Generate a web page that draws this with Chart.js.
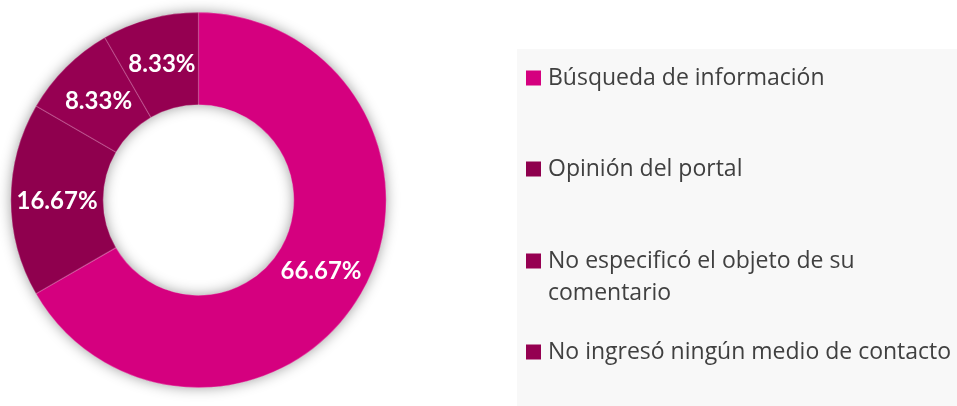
<!DOCTYPE html>
<html>
<head>
<meta charset="utf-8">
<script src="https://cdn.jsdelivr.net/npm/chart.js@4/dist/chart.umd.min.js"></script>
<style>
  html, body { margin: 0; padding: 0; background: #ffffff; }
  #wrap { position: relative; width: 957px; height: 406px; }
  canvas { display: block; }
</style>
</head>
<body>
<div id="wrap"><canvas id="c" width="957" height="406"></canvas></div>
<script>
// Motivos de los comentarios recibidos (porcentaje)
const categories = [
  "Búsqueda de información",
  "Opinión del portal",
  "No especificó el objeto de su comentario",
  "No ingresó ningún medio de contacto"
];
const shares = [66.67, 16.67, 8.33, 8.33];
const sliceColors = ["#D5007F", "#8F004E", "#960052", "#950051"];
// Legend lines (long entries split onto two lines)
const legendLines = [
  ["Búsqueda de información"],
  ["Opinión del portal"],
  ["No especificó el objeto de su", "comentario"],
  ["No ingresó ningún medio de contacto"]
];

// Soft shadow under the whole ring, drawn once before the slices
const ringShadow = {
  id: "ringShadow",
  beforeDatasetsDraw(chart) {
    const arc = chart.getDatasetMeta(0).data[0];
    if (!arc) return;
    const { x, y, outerRadius, innerRadius } = arc.getProps(["x", "y", "outerRadius", "innerRadius"], true);
    const ctx = chart.ctx;
    ctx.save();
    ctx.shadowColor = "rgba(0,0,0,0.42)";
    ctx.shadowBlur = 14;
    ctx.fillStyle = "#D5007F";
    ctx.beginPath();
    ctx.arc(x, y, outerRadius - 1, 0, Math.PI * 2, false);
    ctx.arc(x, y, innerRadius + 1, 0, Math.PI * 2, true);
    ctx.closePath();
    ctx.fill("evenodd");
    ctx.restore();
  }
};

// Percentage labels at the middle of each slice
const sliceLabels = {
  id: "sliceLabels",
  afterDatasetsDraw(chart) {
    const ctx = chart.ctx;
    const ds = chart.data.datasets[0];
    ctx.save();
    ctx.fillStyle = "#ffffff";
    ctx.font = "bold 24px Lato, 'Open Sans', sans-serif";
    ctx.textAlign = "center";
    ctx.textBaseline = "middle";
    chart.getDatasetMeta(0).data.forEach((el, i) => {
      const p = el.tooltipPosition();
      ctx.fillText(ds.data[i].toFixed(2) + "%", p.x, p.y + 1);
    });
    ctx.restore();
  }
};

// Legend panel on the right
const sideLegend = {
  id: "sideLegend",
  afterDraw(chart) {
    const ctx = chart.ctx;
    const colors = chart.data.datasets[0].backgroundColor;
    const panel = { x: 517, y: 49, w: 440, h: 357 };
    const rowY = [78, 169, 261, 352];
    ctx.save();
    ctx.fillStyle = "#F8F8F8";
    ctx.fillRect(panel.x, panel.y, panel.w, panel.h);
    ctx.font = "23px 'Open Sans', sans-serif";
    ctx.textBaseline = "middle";
    ctx.textAlign = "left";
    legendLines.forEach((lines, i) => {
      const cy = rowY[i];
      ctx.fillStyle = colors[i];
      ctx.fillRect(526, cy - 7.5, 15, 15);
      ctx.fillStyle = "#404040";
      lines.forEach((t, j) => ctx.fillText(t, 548, cy + j * 32));
    });
    ctx.restore();
  }
};

new Chart(document.getElementById("c"), {
  type: "doughnut",
  data: {
    labels: categories,
    datasets: [{
      data: shares,
      backgroundColor: sliceColors,
      borderColor: "rgba(255,255,255,0.25)",
      borderWidth: 0.6,
      borderAlign: "inner"
    }]
  },
  options: {
    responsive: false,
    animation: false,
    cutout: "50.5%",
    layout: { padding: { left: 10, top: 12, bottom: 18, right: 570 } },
    plugins: {
      legend: { display: false },
      tooltip: { enabled: false }
    }
  },
  plugins: [ringShadow, sliceLabels, sideLegend]
});
</script>
</body>
</html>
